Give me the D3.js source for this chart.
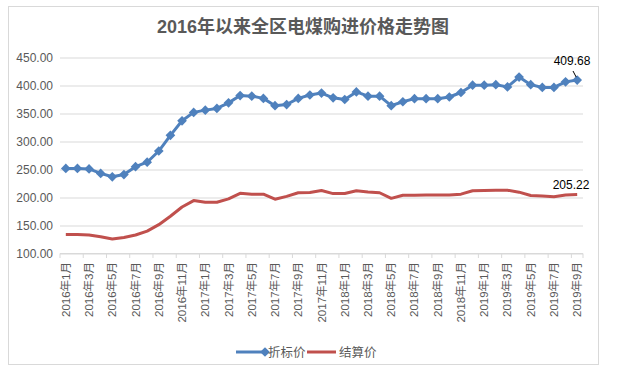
<!DOCTYPE html>
<html>
<head>
<meta charset="utf-8">
<script src="https://cdn.jsdelivr.net/npm/d3@7"></script>
<style>
  body { margin: 0; background: #fff; }
  text { font-family: "Liberation Sans", "Noto Sans CJK SC", sans-serif; }
</style>
</head>
<body>
<div id="chart"></div>
<script>
// months 2016-1 .. 2019-9
const months = []
for (let y = 2016; y <= 2019; y++) {
  for (let m = 1; m <= 12; m++) {
    if (y === 2019 && m > 9) break
    months.push(y + '年' + m + '月')
  }
}

const zhebiao = [252, 252, 251, 243, 237, 241, 255, 263, 283, 311, 337, 352,
  356, 359, 369, 382, 381, 377, 364, 366, 377, 383, 386.5, 378, 375, 388.5,
  381, 381, 364, 371, 376.5, 376.5, 376.5, 379.5, 387.5, 400.5, 400.5, 401.5,
  397.5, 415, 401.5, 396.5, 396.5, 406.5, 409.68]

const jiesuan = [134, 134, 133, 130, 126, 128.5, 133, 140, 151.5, 166.5, 183, 194.5,
  191.5, 191.5, 197.5, 207.5, 206, 206, 197, 202, 208.5, 209, 212.5, 207,
  207, 212, 210, 208.5, 198.5, 204, 204, 204.5, 204.5, 204.5, 206, 212, 212.5,
  213, 213, 209.5, 203.5, 202.5, 201.5, 204.5, 205.22]

const yTicks = [100, 150, 200, 250, 300, 350, 400, 450]

const svg = d3.select('#chart')
  .append('svg')
  .attr('width', 630)
  .attr('height', 373)

// frame
svg.append('rect')
  .attr('x', 8.5).attr('y', 6.5)
  .attr('width', 590).attr('height', 358)
  .attr('fill', '#fff')
  .attr('stroke', '#d9d9d9')

const x = d3.scaleBand().domain(months).range([60, 583])
const y = d3.scaleLinear().domain([100, 450]).range([253.5, 57.5])

// title
svg.append('text')
  .attr('x', 303).attr('y', 33)
  .attr('text-anchor', 'middle')
  .attr('font-size', 18)
  .attr('font-weight', 'bold')
  .attr('fill', '#595959')
  .text('2016年以来全区电煤购进价格走势图')

// grid + y labels
const yAxis = d3.axisLeft(y).tickValues(yTicks).tickSize(-(583 - 60)).tickFormat(d3.format('.2f'))
svg.append('g')
  .attr('class', 'y-axis')
  .attr('transform', 'translate(60,0)')
  .call(yAxis)
  .call(g => g.select('.domain').remove())
  .call(g => g.selectAll('line').attr('stroke', '#d9d9d9'))
  .call(g => g.selectAll('text').attr('x', -7).attr('font-size', 12).attr('fill', '#595959')
    .style('font-family', '"Liberation Sans", sans-serif'))

// x axis line + ticks every 2 months
svg.append('line')
  .attr('x1', 60).attr('x2', 583)
  .attr('y1', 253.5).attr('y2', 253.5)
  .attr('stroke', '#d9d9d9')

months.forEach((m, i) => {
  if (i % 2 === 0) {
    svg.append('line')
      .attr('x1', x(m)).attr('x2', x(m))
      .attr('y1', 253.5).attr('y2', 258)
      .attr('stroke', '#d9d9d9')
  }
})
svg.append('line')
  .attr('x1', 583).attr('x2', 583)
  .attr('y1', 253.5).attr('y2', 258)
  .attr('stroke', '#d9d9d9')

svg.append('g')
  .selectAll('text')
  .data(months.filter((d, i) => i % 2 === 0))
  .enter()
  .append('text')
  .attr('transform', d => 'translate(' + (x(d) + x.bandwidth() / 2 + 4) + ',262) rotate(-90)')
  .attr('text-anchor', 'end')
  .attr('font-size', 11.5)
  .attr('fill', '#595959')
  .text(d => d)

const cx = d => x(d) + x.bandwidth() / 2

// 结算价
const line = d3.line().x((d, i) => cx(months[i])).y(d => y(d))
svg.append('path')
  .datum(jiesuan)
  .attr('d', line)
  .attr('fill', 'none')
  .attr('stroke', '#c0504d')
  .attr('stroke-width', 3)
  .attr('stroke-linejoin', 'round')

// 折标价
svg.append('path')
  .datum(zhebiao)
  .attr('d', line)
  .attr('fill', 'none')
  .attr('stroke', '#4f81bd')
  .attr('stroke-width', 3)
  .attr('stroke-linejoin', 'round')

const diamond = d3.symbol().type(d3.symbolDiamond2).size(60)
svg.append('g')
  .selectAll('path')
  .data(zhebiao)
  .enter()
  .append('path')
  .attr('d', diamond)
  .attr('transform', (d, i) => 'translate(' + cx(months[i]) + ',' + y(d) + ')')
  .attr('fill', '#4f81bd')

// end labels
const last = months.length - 1
svg.append('text')
  .attr('x', 572).attr('y', 65)
  .attr('text-anchor', 'middle')
  .attr('font-size', 12)
  .attr('fill', '#000')
  .text(zhebiao[last].toFixed(2))
svg.append('line')
  .attr('x1', 573).attr('y1', 71)
  .attr('x2', cx(months[last]) - 1).attr('y2', y(zhebiao[last]) - 3)
  .attr('stroke', '#000')
  .attr('stroke-width', 1)
svg.append('text')
  .attr('x', 571).attr('y', 189)
  .attr('text-anchor', 'middle')
  .attr('font-size', 12)
  .attr('fill', '#000')
  .text(jiesuan[last].toFixed(2))

// legend
const lg = svg.append('g').attr('transform', 'translate(0,352)')
lg.append('line').attr('x1', 236).attr('x2', 266).attr('y1', 0).attr('y2', 0)
  .attr('stroke', '#4f81bd').attr('stroke-width', 3)
lg.append('path').attr('d', diamond).attr('transform', 'translate(265,0)').attr('fill', '#4f81bd')
lg.append('text').attr('x', 268).attr('y', 5).attr('font-size', 12.5).attr('fill', '#595959').text('折标价')
lg.append('line').attr('x1', 307).attr('x2', 336).attr('y1', 0).attr('y2', 0)
  .attr('stroke', '#c0504d').attr('stroke-width', 3)
lg.append('text').attr('x', 339).attr('y', 5).attr('font-size', 12.5).attr('fill', '#595959').text('结算价')
</script>
</body>
</html>
